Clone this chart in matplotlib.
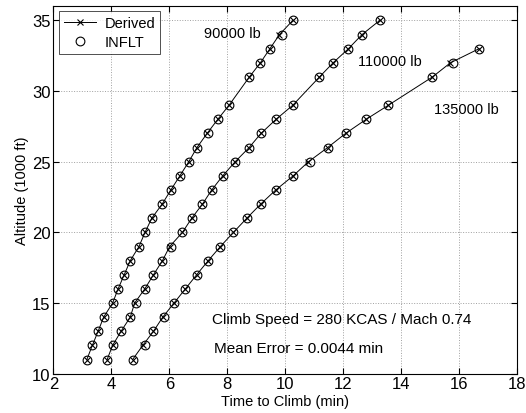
import matplotlib
matplotlib.use('Agg')
import matplotlib.pyplot as plt

plt.rcParams['font.family'] = ['Liberation Sans', 'DejaVu Sans']

# altitude (1000 ft) for each weight; no point at 30
alt_90 = [11, 12, 13, 14, 15, 16, 17, 18, 19, 20, 21, 22, 23, 24, 25, 26, 27, 28, 29,
          31, 32, 33, 34, 35]
alt_110 = alt_90
alt_135 = [11, 12, 13, 14, 15, 16, 17, 18, 19, 20, 21, 22, 23, 24, 25, 26, 27, 28, 29,
           31, 32, 33]

# INFLT time to climb (min)
inflt_90 = [3.15, 3.34, 3.54, 3.73, 4.04, 4.23, 4.44, 4.65, 4.95, 5.16, 5.39, 5.75,
            6.05, 6.36, 6.67, 6.95, 7.34, 7.67, 8.06, 8.76, 9.14, 9.47, 9.88, 10.26]
inflt_110 = [3.85, 4.04, 4.33, 4.65, 4.85, 5.15, 5.45, 5.76, 6.06, 6.45, 6.77, 7.14,
             7.46, 7.84, 8.27, 8.75, 9.16, 9.68, 10.26, 11.18, 11.65, 12.18, 12.65, 13.26]
inflt_135 = [4.73, 5.15, 5.45, 5.83, 6.16, 6.55, 6.94, 7.34, 7.76, 8.21, 8.67, 9.15,
             9.67, 10.27, 10.86, 11.46, 12.08, 12.79, 13.56, 15.08, 15.78, 16.69]

# Derived time to climb (min)
derived_90 = [3.15, 3.34, 3.54, 3.73, 4.04, 4.23, 4.44, 4.65, 4.95, 5.16, 5.39, 5.75,
              6.05, 6.36, 6.67, 6.95, 7.30, 7.67, 8.06, 8.76, 9.14, 9.47, 9.80, 10.26]
derived_110 = [3.85, 4.04, 4.33, 4.65, 4.80, 5.15, 5.45, 5.76, 6.01, 6.45, 6.77, 7.14,
               7.46, 7.84, 8.27, 8.75, 9.16, 9.68, 10.26, 11.18, 11.65, 12.18, 12.65, 13.26]
derived_135 = [4.73, 5.08, 5.45, 5.77, 6.16, 6.55, 6.94, 7.34, 7.76, 8.21, 8.67, 9.15,
               9.67, 10.27, 10.80, 11.46, 12.08, 12.79, 13.56, 15.08, 15.70, 16.69]

weight_labels = ['90000 lb', '110000 lb', '135000 lb']
label_pos = [(7.2, 34.1), (12.52, 32.1), (15.13, 28.7)]

fig = plt.figure(figsize=(5.26, 4.14), dpi=100)
ax = fig.add_axes([0.1017, 0.0949, 0.8813, 0.8875])

groups = [(alt_90, derived_90, inflt_90), (alt_110, derived_110, inflt_110),
          (alt_135, derived_135, inflt_135)]
for i, (alt, der, inf) in enumerate(groups):
    ax.plot(der, alt, color='black', lw=0.7, marker='x', ms=5, mew=0.8,
            label='Derived' if i == 0 else None)
    ax.plot(inf, alt, ls='none', marker='o', ms=6.3, mfc='none', mec='black', mew=0.8,
            label='INFLT' if i == 0 else None)

for txt, (x, y) in zip(weight_labels, label_pos):
    ax.text(x, y, txt, fontsize=10.5, ha='left', va='center')

ax.text(7.48, 13.86, 'Climb Speed = 280 KCAS / Mach 0.74', fontsize=11, va='center')
ax.text(7.55, 11.85, 'Mean Error = 0.0044 min', fontsize=11, va='center')

ax.set_xlim(2, 18)
ax.set_ylim(10, 36)
ax.set_xticks(range(2, 19, 2))
ax.set_yticks(range(10, 36, 5))
ax.tick_params(direction='in', top=True, right=True, labelsize=12, length=4, pad=2)
ax.grid(True, ls=':', color='#a0a0a0', lw=0.7)
for s in ax.spines.values():
    s.set_linewidth(0.8)

ax.set_xlabel('Time to Climb (min)', fontsize=10.5, labelpad=2)
ax.set_ylabel('Altitude (1000 ft)', fontsize=10.5, labelpad=2)

leg = ax.legend(loc='upper left', numpoints=1, fontsize=10.5, fancybox=False,
                borderaxespad=0.35, handlelength=2.2, handletextpad=0.6,
                borderpad=0.35, labelspacing=0.3)
leg.get_frame().set_edgecolor('black')
leg.get_frame().set_linewidth(0.6)

fig.savefig('out.png', dpi=100)
